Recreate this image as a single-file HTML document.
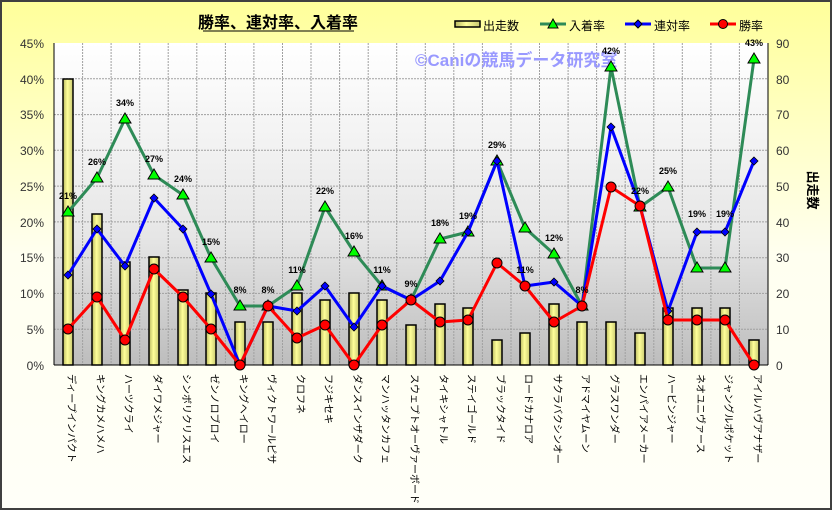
<!DOCTYPE html>
<html><head><meta charset="utf-8"><style>
body{margin:0;width:832px;height:510px;overflow:hidden;font-family:"Liberation Sans","Noto Sans CJK JP",sans-serif}
</style></head><body>
<svg width="832" height="510" viewBox="0 0 832 510" xmlns="http://www.w3.org/2000/svg" font-family="'Liberation Sans','Noto Sans CJK JP',sans-serif">
<defs>
<linearGradient id="bg" x1="0" y1="0" x2="0" y2="1"><stop offset="0" stop-color="#ffff9a"/><stop offset="0.5" stop-color="#fffff0"/><stop offset="1" stop-color="#fffff8"/></linearGradient>
<linearGradient id="pl" x1="0" y1="0" x2="0" y2="1"><stop offset="0" stop-color="#ffffff"/><stop offset="0.6" stop-color="#e6e6e6"/><stop offset="1" stop-color="#bdbdbd"/></linearGradient>
<linearGradient id="bar" x1="0" y1="0" x2="1" y2="0"><stop offset="0" stop-color="#b8b860"/><stop offset="0.45" stop-color="#ffff99"/><stop offset="1" stop-color="#c8c870"/></linearGradient>
</defs>
<rect x="1" y="1" width="830" height="508" fill="url(#bg)" stroke="#404040" stroke-width="2"/>
<text x="278" y="28" font-size="16" font-weight="bold" text-anchor="middle" fill="#000">勝率、連対率、入着率</text>
<line x1="203" y1="31" x2="354" y2="31" stroke="#000" stroke-width="1"/>
<!-- legend -->
<rect x="455" y="21" width="25" height="6" fill="url(#bar)" stroke="#000" stroke-width="1.5"/>
<text x="483" y="30" font-size="12">出走数</text>
<line x1="540" y1="24" x2="566" y2="24" stroke="#2e8b57" stroke-width="3"/><polygon points="553,19 558,28 548,28" fill="#00ff00" stroke="#000"/>
<text x="569" y="30" font-size="12">入着率</text>
<line x1="625" y1="24" x2="651" y2="24" stroke="#0000ff" stroke-width="3"/><polygon points="638,20 642,24 638,28 634,24" fill="#0000ff" stroke="#000"/>
<text x="654" y="30" font-size="12">連対率</text>
<line x1="710" y1="24" x2="736" y2="24" stroke="#ff0000" stroke-width="3"/><circle cx="723" cy="24" r="4.5" fill="#ff0000" stroke="#000"/>
<text x="739" y="30" font-size="12">勝率</text>
<!-- plot -->
<rect x="54" y="43" width="714" height="322" fill="url(#pl)"/>
<g stroke="#a0a0a0" stroke-width="1" stroke-dasharray="2,1">
<line x1="54" y1="78.8" x2="768" y2="78.8"/><line x1="54" y1="114.6" x2="768" y2="114.6"/><line x1="54" y1="150.3" x2="768" y2="150.3"/><line x1="54" y1="186.1" x2="768" y2="186.1"/><line x1="54" y1="221.9" x2="768" y2="221.9"/><line x1="54" y1="257.7" x2="768" y2="257.7"/><line x1="54" y1="293.4" x2="768" y2="293.4"/><line x1="54" y1="329.2" x2="768" y2="329.2"/>
<line x1="82.6" y1="43" x2="82.6" y2="365"/><line x1="111.1" y1="43" x2="111.1" y2="365"/><line x1="139.7" y1="43" x2="139.7" y2="365"/><line x1="168.2" y1="43" x2="168.2" y2="365"/><line x1="196.8" y1="43" x2="196.8" y2="365"/><line x1="225.4" y1="43" x2="225.4" y2="365"/><line x1="253.9" y1="43" x2="253.9" y2="365"/><line x1="282.5" y1="43" x2="282.5" y2="365"/><line x1="311" y1="43" x2="311" y2="365"/><line x1="339.6" y1="43" x2="339.6" y2="365"/><line x1="368.2" y1="43" x2="368.2" y2="365"/><line x1="396.7" y1="43" x2="396.7" y2="365"/><line x1="425.3" y1="43" x2="425.3" y2="365"/><line x1="453.8" y1="43" x2="453.8" y2="365"/><line x1="482.4" y1="43" x2="482.4" y2="365"/><line x1="511" y1="43" x2="511" y2="365"/><line x1="539.5" y1="43" x2="539.5" y2="365"/><line x1="568.1" y1="43" x2="568.1" y2="365"/><line x1="596.6" y1="43" x2="596.6" y2="365"/><line x1="625.2" y1="43" x2="625.2" y2="365"/><line x1="653.8" y1="43" x2="653.8" y2="365"/><line x1="682.3" y1="43" x2="682.3" y2="365"/><line x1="710.9" y1="43" x2="710.9" y2="365"/><line x1="739.4" y1="43" x2="739.4" y2="365"/>
</g>
<text x="415" y="66" font-size="17" font-weight="bold" fill="#9999ff">©Caniの競馬データ研究室</text>
<!-- axes -->
<line x1="54" y1="43" x2="54" y2="365" stroke="#000"/><line x1="768" y1="43" x2="768" y2="365" stroke="#000"/><line x1="54" y1="365" x2="768" y2="365" stroke="#000"/>
<g font-size="12" fill="#333" text-anchor="end">
<text x="44" y="48">45%</text><text x="44" y="84">40%</text><text x="44" y="119">35%</text><text x="44" y="155">30%</text><text x="44" y="191">25%</text><text x="44" y="227">20%</text><text x="44" y="262">15%</text><text x="44" y="298">10%</text><text x="44" y="334">5%</text><text x="44" y="370">0%</text>
</g>
<g font-size="12" fill="#333">
<text x="776" y="48">90</text><text x="776" y="84">80</text><text x="776" y="119">70</text><text x="776" y="155">60</text><text x="776" y="191">50</text><text x="776" y="227">40</text><text x="776" y="262">30</text><text x="776" y="298">20</text><text x="776" y="334">10</text><text x="776" y="370">0</text>
</g>
<text transform="translate(808,190) rotate(90)" font-size="13" font-weight="bold" text-anchor="middle">出走数</text>
<!-- bars -->
<g fill="url(#bar)" stroke="#000" stroke-width="1.5">
<rect x="63" y="79" width="10" height="286"/><rect x="92" y="214" width="10" height="151"/><rect x="120" y="262" width="10" height="103"/><rect x="149" y="257" width="10" height="108"/><rect x="178" y="290" width="10" height="75"/><rect x="206" y="293" width="10" height="72"/><rect x="235" y="322" width="10" height="43"/><rect x="263" y="322" width="10" height="43"/><rect x="292" y="293" width="10" height="72"/><rect x="320" y="300" width="10" height="65"/><rect x="349" y="293" width="10" height="72"/><rect x="377" y="300" width="10" height="65"/><rect x="406" y="325" width="10" height="40"/><rect x="435" y="304" width="10" height="61"/><rect x="463" y="308" width="10" height="57"/><rect x="492" y="340" width="10" height="25"/><rect x="520" y="333" width="10" height="32"/><rect x="549" y="304" width="10" height="61"/><rect x="577" y="322" width="10" height="43"/><rect x="606" y="322" width="10" height="43"/><rect x="635" y="333" width="10" height="32"/><rect x="663" y="308" width="10" height="57"/><rect x="692" y="308" width="10" height="57"/><rect x="720" y="308" width="10" height="57"/><rect x="749" y="340" width="10" height="25"/>
</g>
<!-- green -->
<polyline fill="none" stroke="#2e8b57" stroke-width="3" stroke-linejoin="round" points="68,212 97,178 125,119 154,175 183,195 211,258 240,306 268,306 297,286 325,207 354,252 382,286 411,300 440,239 468,232 497,161 525,228 554,254 582,306 611,67 640,207 668,187 697,268 725,268 754,59"/>
<g fill="#00ff00" stroke="#000" stroke-width="1">
<polygon points="68,206 74,216 62,216"/><polygon points="97,172 103,182 91,182"/><polygon points="125,113 131,123 119,123"/><polygon points="154,169 160,179 148,179"/><polygon points="183,189 189,199 177,199"/><polygon points="211,252 217,262 205,262"/><polygon points="240,300 246,310 234,310"/><polygon points="268,300 274,310 262,310"/><polygon points="297,280 303,290 291,290"/><polygon points="325,201 331,211 319,211"/><polygon points="354,246 360,256 348,256"/><polygon points="382,280 388,290 376,290"/><polygon points="411,294 417,304 405,304"/><polygon points="440,233 446,243 434,243"/><polygon points="468,226 474,236 462,236"/><polygon points="497,155 503,165 491,165"/><polygon points="525,222 531,232 519,232"/><polygon points="554,248 560,258 548,258"/><polygon points="582,300 588,310 576,310"/><polygon points="611,61 617,71 605,71"/><polygon points="640,201 646,211 634,211"/><polygon points="668,181 674,191 662,191"/><polygon points="697,262 703,272 691,272"/><polygon points="725,262 731,272 719,272"/><polygon points="754,53 760,63 748,63"/>
</g>
<!-- blue -->
<polyline fill="none" stroke="#0000ff" stroke-width="3" stroke-linejoin="round" points="68,275 97,229 125,266 154,198 183,229 211,294 240,365 268,306 297,311 325,286 354,327 382,286 411,300 440,281 468,232 497,161 525,286 554,282 582,306 611,127 640,206 668,311 697,232 725,232 754,161"/>
<g fill="#0000ff" stroke="#000" stroke-width="0.8">
<polygon points="68,271 72,275 68,279 64,275"/><polygon points="97,225 101,229 97,233 93,229"/><polygon points="125,262 129,266 125,270 121,266"/><polygon points="154,194 158,198 154,202 150,198"/><polygon points="183,225 187,229 183,233 179,229"/><polygon points="211,290 215,294 211,298 207,294"/><polygon points="240,361 244,365 240,369 236,365"/><polygon points="268,302 272,306 268,310 264,306"/><polygon points="297,307 301,311 297,315 293,311"/><polygon points="325,282 329,286 325,290 321,286"/><polygon points="354,323 358,327 354,331 350,327"/><polygon points="382,282 386,286 382,290 378,286"/><polygon points="411,296 415,300 411,304 407,300"/><polygon points="440,277 444,281 440,285 436,281"/><polygon points="468,228 472,232 468,236 464,232"/><polygon points="497,157 501,161 497,165 493,161"/><polygon points="525,282 529,286 525,290 521,286"/><polygon points="554,278 558,282 554,286 550,282"/><polygon points="582,302 586,306 582,310 578,306"/><polygon points="611,123 615,127 611,131 607,127"/><polygon points="640,202 644,206 640,210 636,206"/><polygon points="668,307 672,311 668,315 664,311"/><polygon points="697,228 701,232 697,236 693,232"/><polygon points="725,228 729,232 725,236 721,232"/><polygon points="754,157 758,161 754,165 750,161"/>
</g>
<!-- red -->
<polyline fill="none" stroke="#ff0000" stroke-width="3" stroke-linejoin="round" points="68,329 97,297 125,340 154,269 183,297 211,329 240,365 268,306 297,338 325,325 354,365 382,325 411,300 440,322 468,320 497,263 525,286 554,322 582,306 611,187 640,206 668,320 697,320 725,320 754,365"/>
<g fill="#ff0000" stroke="#000" stroke-width="1">
<circle cx="68" cy="329" r="5"/><circle cx="97" cy="297" r="5"/><circle cx="125" cy="340" r="5"/><circle cx="154" cy="269" r="5"/><circle cx="183" cy="297" r="5"/><circle cx="211" cy="329" r="5"/><circle cx="240" cy="365" r="5"/><circle cx="268" cy="306" r="5"/><circle cx="297" cy="338" r="5"/><circle cx="325" cy="325" r="5"/><circle cx="354" cy="365" r="5"/><circle cx="382" cy="325" r="5"/><circle cx="411" cy="300" r="5"/><circle cx="440" cy="322" r="5"/><circle cx="468" cy="320" r="5"/><circle cx="497" cy="263" r="5"/><circle cx="525" cy="286" r="5"/><circle cx="554" cy="322" r="5"/><circle cx="582" cy="306" r="5"/><circle cx="611" cy="187" r="5"/><circle cx="640" cy="206" r="5"/><circle cx="668" cy="320" r="5"/><circle cx="697" cy="320" r="5"/><circle cx="725" cy="320" r="5"/><circle cx="754" cy="365" r="5"/>
</g>
<!-- data labels -->
<g font-size="9" font-weight="bold" text-anchor="middle" fill="#000">
<text x="68" y="199">21%</text><text x="97" y="165">26%</text><text x="125" y="106">34%</text><text x="154" y="162">27%</text><text x="183" y="182">24%</text><text x="211" y="245">15%</text><text x="240" y="293">8%</text><text x="268" y="293">8%</text><text x="297" y="273">11%</text><text x="325" y="194">22%</text><text x="354" y="239">16%</text><text x="382" y="273">11%</text><text x="411" y="287">9%</text><text x="440" y="226">18%</text><text x="468" y="219">19%</text><text x="497" y="148">29%</text><text x="525" y="273">11%</text><text x="554" y="241">12%</text><text x="582" y="293">8%</text><text x="611" y="54">42%</text><text x="640" y="194">22%</text><text x="668" y="174">25%</text><text x="697" y="217">19%</text><text x="725" y="217">19%</text><text x="754" y="46">43%</text>
</g>
<!-- category labels -->
<g font-size="10" fill="#000" style="writing-mode:vertical-rl;text-orientation:sideways">
<text x="68" y="374">ディープインパクト</text><text x="97" y="374">キングカメハメハ</text><text x="125" y="374">ハーツクライ</text><text x="154" y="374">ダイワメジャー</text><text x="183" y="374">シンボリクリスエス</text><text x="211" y="374">ゼンノロブロイ</text><text x="240" y="374">キングヘイロー</text><text x="268" y="374">ヴィクトワールピサ</text><text x="297" y="374">クロフネ</text><text x="325" y="374">フジキセキ</text><text x="354" y="374">ダンスインザダーク</text><text x="382" y="374">マンハッタンカフェ</text><text x="411" y="374">スウェプトオーヴァーボード</text><text x="440" y="374">タイキシャトル</text><text x="468" y="374">ステイゴールド</text><text x="497" y="374">ブラックタイド</text><text x="525" y="374">ロードカナロア</text><text x="554" y="374">サクラバクシンオー</text><text x="582" y="374">アドマイヤムーン</text><text x="611" y="374">グラスワンダー</text><text x="640" y="374">エンパイアメーカー</text><text x="668" y="374">ハービンジャー</text><text x="697" y="374">ネオユニヴァース</text><text x="725" y="374">ジャングルポケット</text><text x="754" y="374">アイルハヴアナザー</text>
</g>
</svg>
</body></html>
